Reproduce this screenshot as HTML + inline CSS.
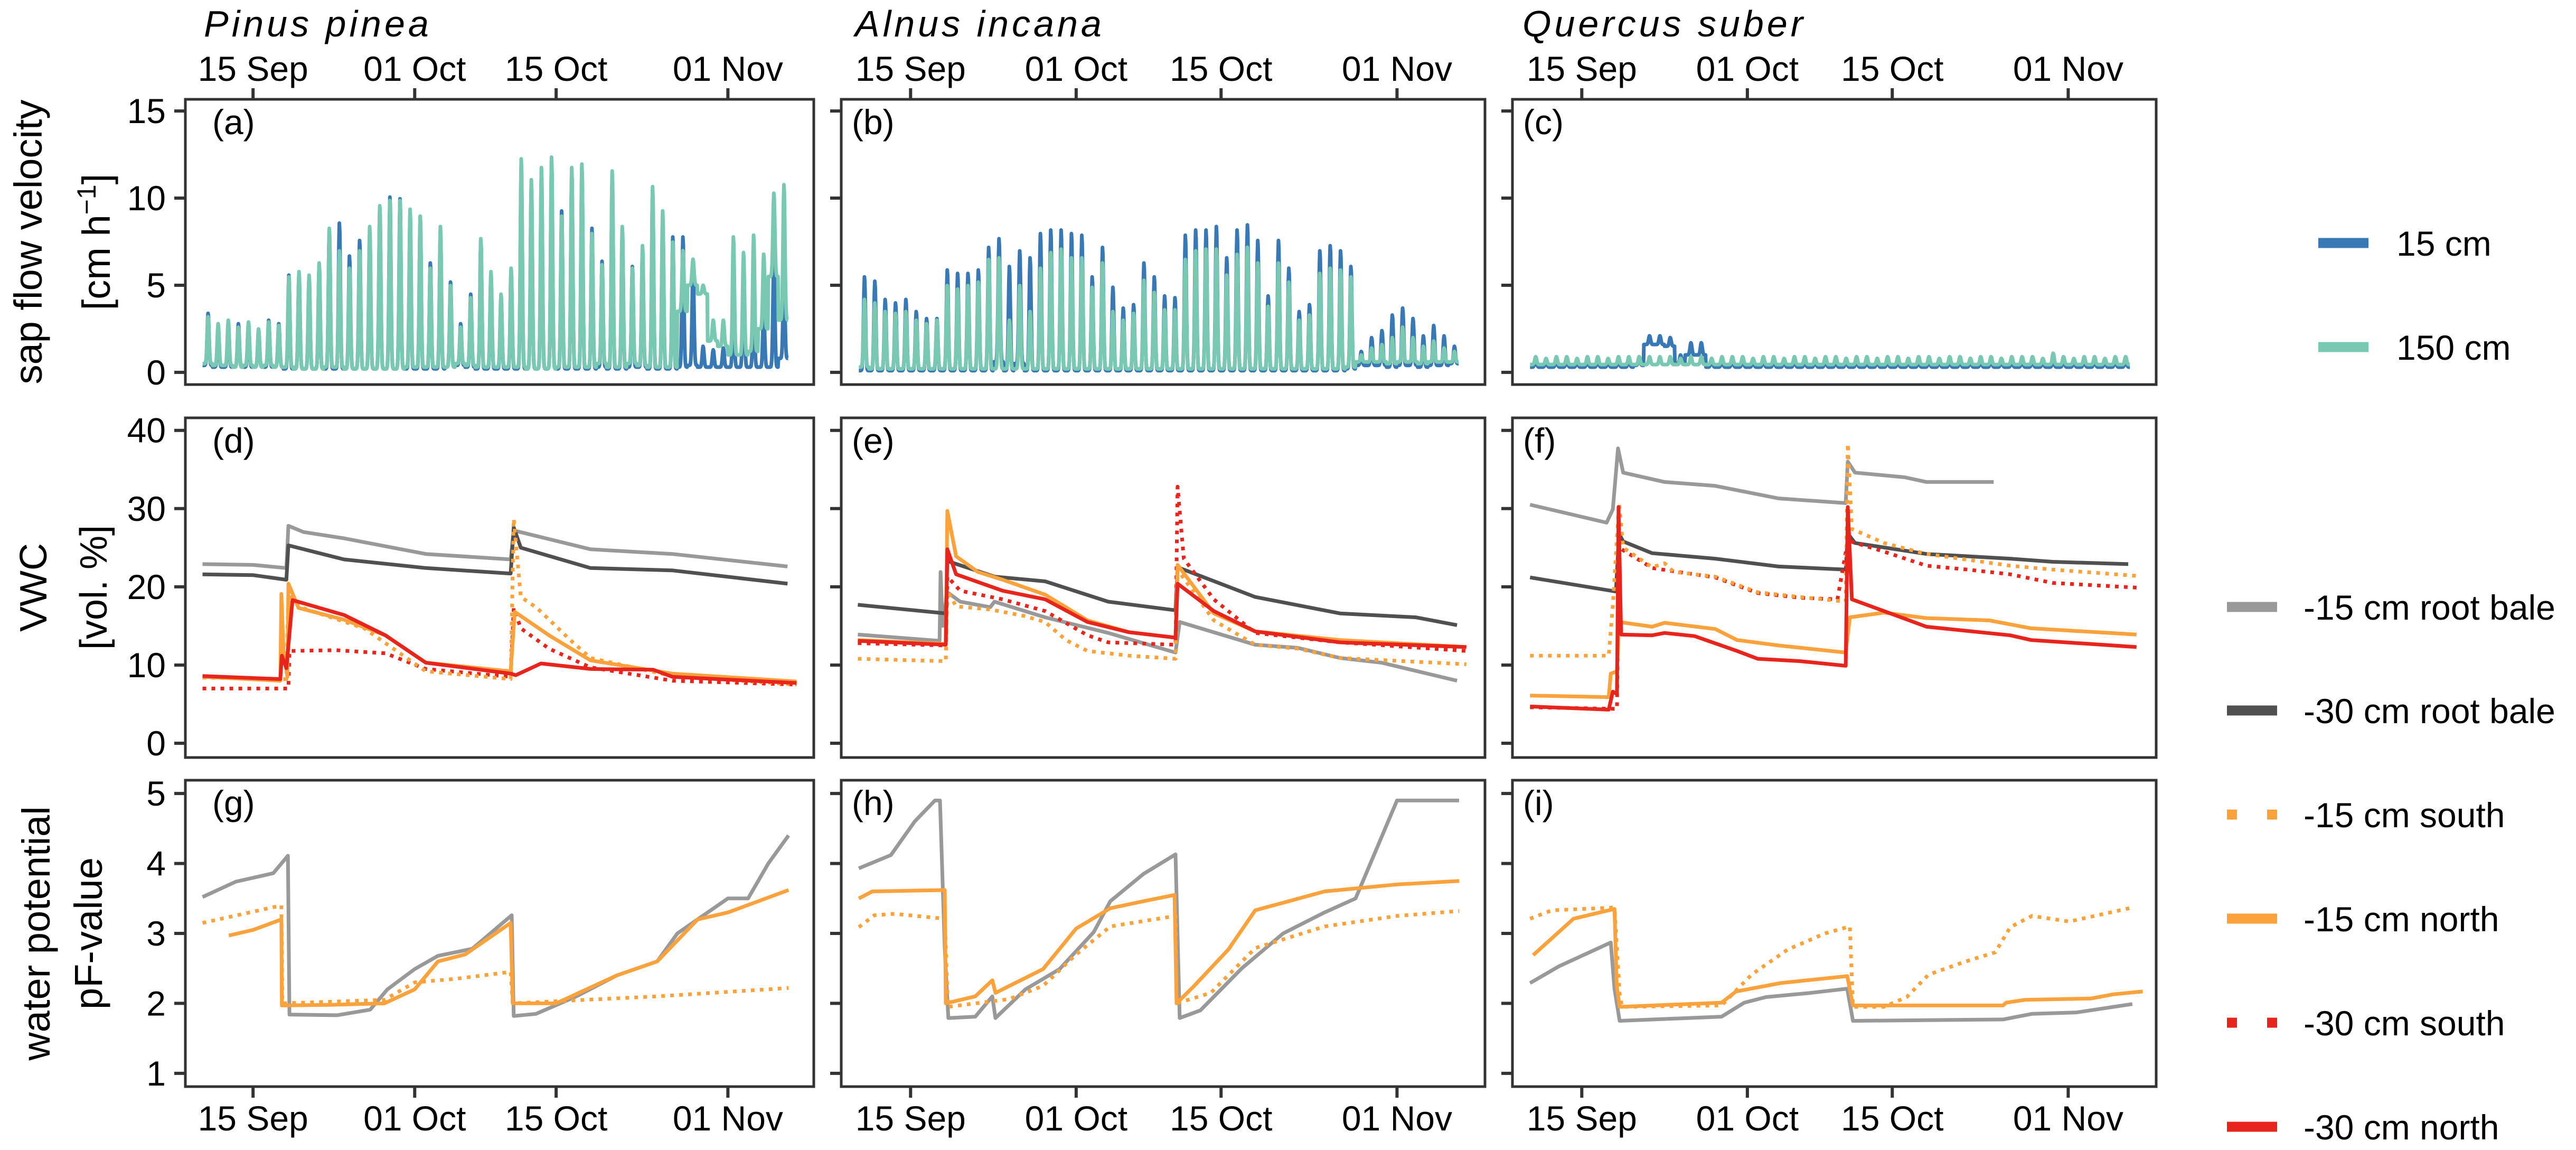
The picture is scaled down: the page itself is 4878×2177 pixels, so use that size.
<!DOCTYPE html>
<html><head><meta charset="utf-8"><title>Sap flow, VWC and water potential</title>
<style>
html,body{margin:0;padding:0;background:#fff;}
svg{display:block;font-family:"Liberation Sans",Arial,sans-serif;}
</style></head>
<body>
<svg id="chart" xmlns="http://www.w3.org/2000/svg" width="4878" height="2177" viewBox="0 0 4878 2177">
<rect x="0" y="0" width="4878" height="2177" fill="#ffffff"/>
</svg>
<script>
// ---------------- DATA ----------------
const xTickDays = [0, 16, 30, 47];
const xTickLabels = ['15 Sep', '01 Oct', '15 Oct', '01 Nov'];
const species = ['Pinus pinea', 'Alnus incana', 'Quercus suber'];
const sapTicks = [0, 5, 10, 15];
const vwcTicks = [0, 10, 20, 30, 40];
const pfTicks = [1, 2, 3, 4, 5];
const firstDay = -5;

const sapA15peak = [3.4,2.7,2.9,2.8,2.8,2.4,3.0,2.8, 5.6,5.7,5.5,6.2,8.2,8.6,6.7,7.6, 8.0,9.5,10.1,10.0,9.1,9.0,6.3,8.2, 5.2,2.8,4.5,7.6,5.6,4.4,5.9,12.0, 10.9,11.6,12.2,9.3,11.5,11.8,8.3,6.4, 11.3,8.2,6.1,7.0,10.5,9.0,7.8,7.8, 6.0,1.5,1.3,1.4,4.0,6.1,4.0,3.5, 6.4,5.6];
const sapA15min = [0.4,0.3,0.3,0.3,0.3,0.3,0.3,0.3, 0.2,0.2,0.2,0.2,0.2,0.2,0.2,0.2, 0.2,0.2,0.2,0.2,0.2,0.2,0.2,0.2, 0.3,0.4,0.3,0.2,0.2,0.2,0.2,0.2, 0.2,0.2,0.2,0.2,0.2,0.2,0.2,0.3, 0.2,0.2,0.3,0.3,0.2,0.2,0.2,0.3, 0.4,0.3,0.3,0.3,0.3,0.3,0.3,0.3, 0.3,0.8];
const sapA150peak = [3.2,2.8,3.0,2.6,2.9,2.5,2.9,2.7, 5.5,5.8,5.6,6.3,8.3,7.0,6.0,7.0, 8.4,9.6,9.9,9.9,9.4,9.0,6.0,8.4, 5.0,2.6,4.3,7.7,5.8,4.5,6.0,12.3, 11.1,11.8,12.4,9.0,11.8,12.0,8.0,6.2, 11.6,8.4,6.0,7.3,10.7,9.3,7.5,7.0, 6.5,5.0,3.0,3.0,7.8,6.9,7.9,6.8, 10.3,10.8];
const sapA150min = [0.5,0.4,0.4,0.3,0.4,0.3,0.4,0.3, 0.3,0.2,0.2,0.2,0.3,0.3,0.2,0.2, 0.2,0.2,0.2,0.2,0.3,0.3,0.3,0.3, 0.3,0.5,0.4,0.3,0.3,0.3,0.3,0.3, 0.2,0.2,0.2,0.3,0.3,0.3,0.3,0.5, 0.3,0.3,0.5,0.4,0.3,0.3,0.3,3.5, 5.0,4.5,1.8,1.5,1.0,1.0,1.2,2.5, 5.5,3.0];
const sapB15peak = [5.5,5.25,4.2,4.0,4.2,3.5,3.1,3.1, 5.9,5.7,5.7,5.9,7.2,7.7,6.1,7.0, 6.6,8.0,8.2,8.2,8.0,7.9,5.5,7.2, 4.9,3.7,3.9,6.3,5.5,4.4,4.3,7.9, 8.2,8.2,8.4,6.6,8.2,8.5,7.6,4.4, 7.6,6.0,3.5,3.9,7.0,7.3,7.0,6.1, 1.2,2.0,2.4,3.3,3.7,3.1,2.1,2.7, 2.1,1.5];
const sapB15min = [0.1,0.1,0.1,0.1,0.1,0.1,0.1,0.1, 0.1,0.1,0.1,0.1,0.1,0.6,0.1,0.5, 0.1,0.1,0.1,0.1,0.1,0.1,0.1,0.1, 0.1,0.1,0.1,0.1,0.1,0.1,0.1,0.1, 0.1,0.1,0.1,0.1,0.1,0.1,0.1,0.1, 0.1,0.1,0.1,0.1,0.1,0.1,0.1,0.2, 0.4,0.4,0.4,0.3,0.4,0.4,0.3,0.4, 0.4,0.5];
const sapB150peak = [4.2,4.0,3.5,3.4,3.5,3.0,2.8,3.0, 5.0,4.8,5.0,5.2,6.5,6.6,3.0,5.0, 3.5,6.0,6.9,7.1,6.6,6.6,4.9,6.3, 3.5,3.0,3.4,5.3,4.6,3.6,3.6,6.5, 7.0,7.1,7.1,5.6,6.8,7.2,6.3,3.8, 6.3,5.2,3.0,3.3,5.7,6.0,5.9,5.5, 1.0,1.4,1.6,2.0,2.6,2.0,1.5,1.8, 1.4,1.2];
const sapB150min = [0.3,0.2,0.2,0.2,0.2,0.2,0.2,0.2, 0.2,0.2,0.2,0.2,0.2,0.2,0.2,0.2, 0.2,0.2,0.2,0.2,0.2,0.2,0.2,0.2, 0.2,0.2,0.2,0.2,0.2,0.2,0.2,0.2, 0.2,0.2,0.2,0.2,0.2,0.2,0.2,0.2, 0.2,0.2,0.2,0.2,0.2,0.2,0.2,0.3, 0.6,0.6,0.6,0.5,0.6,0.6,0.5,0.6, 0.6,0.6];
const sapC15peak = [0.8,0.7,0.8,0.8,0.7,0.8,0.8,0.7, 0.8,0.8,0.9,2.1,2.1,2.0,1.0,1.7, 1.7,0.8,0.7,0.8,0.8,0.7,0.8,0.8, 0.7,0.8,0.7,0.8,0.8,0.7,0.8,0.8, 0.7,0.8,0.8,0.7,0.8,0.7,0.8,0.8, 0.7,0.8,0.8,0.7,0.8,0.8,0.7,0.8, 0.8,0.7,0.8,0.8,0.7,0.8,0.8,0.7, 0.8,0.8];
const sapC15min = [0.3,0.3,0.3,0.3,0.3,0.3,0.3,0.3, 0.3,0.3,0.4,1.6,1.6,1.5,0.5,1.0, 1.0,0.3,0.3,0.3,0.3,0.3,0.3,0.3, 0.3,0.3,0.3,0.3,0.3,0.3,0.3,0.3, 0.3,0.3,0.3,0.3,0.3,0.3,0.3,0.3, 0.3,0.3,0.3,0.3,0.3,0.3,0.3,0.3, 0.3,0.3,0.3,0.3,0.3,0.3,0.3,0.3, 0.3,0.3];
const sapC150peak = [0.9,0.8,0.9,0.9,0.8,0.9,0.9,0.8, 0.9,0.9,0.9,0.9,0.9,0.9,0.8,0.9, 0.9,0.8,0.9,0.9,0.9,0.8,0.9,0.9, 0.8,0.9,0.9,0.8,0.9,0.9,0.8,0.9, 0.9,0.8,0.9,0.9,0.8,0.9,0.9,0.8, 0.9,0.9,0.8,0.9,0.9,0.8,0.9,0.9, 0.9,0.8,1.1,0.9,0.8,0.9,0.9,0.8, 0.9,0.9];
const sapC150min = [0.45,0.45,0.45,0.45,0.45,0.45,0.45,0.45, 0.45,0.45,0.45,0.45,0.45,0.45,0.45,0.45, 0.45,0.45,0.45,0.45,0.45,0.45,0.45,0.45, 0.45,0.45,0.45,0.45,0.45,0.45,0.45,0.45, 0.45,0.45,0.45,0.45,0.45,0.45,0.45,0.45, 0.45,0.45,0.45,0.45,0.45,0.45,0.45,0.45, 0.45,0.45,0.45,0.45,0.45,0.45,0.45,0.45, 0.45,0.45];

const vwcPinusRoot15 = [[-5,22.9],[0,22.8],[3.3,22.4],[3.5,27.8],[5,27.0],[9,26.2],[17.1,24.2],[25.5,23.5],[25.8,27.2],[33.4,24.8],[41.5,24.2],[52.9,22.6]];
const vwcPinusRoot30 = [[-5,21.6],[0,21.5],[3.3,20.9],[3.5,25.3],[9,23.5],[17.1,22.4],[25.5,21.7],[25.8,27.6],[26.5,25.0],[33.4,22.4],[41.5,22.1],[52.9,20.4]];
const vwcPinusS15 = [[-5,8.4],[3.3,8.2],[3.5,19.0],[4.9,17.3],[11,14.7],[17.1,9.2],[25.5,8.2],[25.8,28.7],[26.5,18.7],[28.1,17.3],[31.4,13.2],[33.4,10.9],[41.5,8.6],[53.8,7.5]];
const vwcPinusN15 = [[-5,8.5],[2.7,8.0],[2.8,19.1],[3.0,12.0],[3.4,8.5],[3.5,20.4],[4.5,17.3],[9,15.8],[13.1,13.8],[17.1,10.3],[25.5,9.2],[25.9,16.8],[29.3,13.8],[33.4,10.6],[41.5,8.9],[53.8,7.9]];
const vwcPinusS30 = [[-5,7.0],[3.5,7.0],[3.6,11.8],[8.2,11.9],[13.1,11.5],[17.1,9.5],[25.5,8.5],[25.8,17.3],[26.5,14.7],[29.3,12.1],[33.4,9.7],[41.5,8.0],[53.8,7.5]];
const vwcPinusN30 = [[-5,8.6],[2.7,8.2],[2.85,11.2],[3.3,9.6],[3.9,18.3],[9,16.4],[13.1,13.8],[17.1,10.3],[25.5,8.9],[26.0,8.7],[28.5,10.2],[33.4,9.5],[39.6,9.4],[41.5,8.5],[53.8,7.7]];

const vwcAlnusRoot15 = [[-5.1,13.9],[2.8,13.1],[2.9,21.9],[3.1,15.0],[3.55,19.3],[4.8,18.1],[7.7,17.4],[8.1,18.1],[13,16.1],[19.1,14.1],[25.6,11.6],[26.0,15.5],[33.3,12.6],[37.4,12.2],[41.5,10.9],[45.5,10.3],[52.8,8.0]];
const vwcAlnusRoot30 = [[-5.1,17.7],[3.4,16.6],[3.55,23.3],[8.1,21.3],[13,20.7],[19.1,18.1],[25.6,17.0],[25.8,22.5],[33.3,18.7],[41.5,16.6],[48.8,16.1],[52.8,15.1]];
const vwcAlnusS15 = [[-5.1,10.8],[3.4,10.5],[3.55,19.5],[4.4,17.5],[7.7,17.1],[10.9,16.3],[13,15.5],[15,13.2],[17.1,11.8],[21.1,11.2],[25.6,10.8],[25.8,22.2],[29.3,15.7],[33.3,12.6],[37.4,12.1],[41.5,10.9],[53.7,10.1]];
const vwcAlnusN15 = [[-5.1,13.2],[3.4,12.7],[3.55,29.7],[4.4,23.9],[6.5,21.9],[8.9,20.9],[13,19.0],[17.1,15.7],[21.1,14.2],[25.6,13.5],[25.8,22.8],[29.3,16.6],[33.3,14.3],[41.5,13.2],[53.7,12.3]];
const vwcAlnusS30 = [[-5.1,12.8],[3.4,12.5],[3.55,21.3],[4.8,19.5],[8.9,18.4],[13,16.9],[17.1,13.8],[19.1,12.9],[25.6,12.6],[25.8,32.8],[26.4,23.6],[29.3,18.4],[33.3,14.1],[41.5,12.9],[53.7,11.8]];
const vwcAlnusN30 = [[-5.1,13.1],[3.4,12.6],[3.55,24.8],[4.4,21.6],[8.9,19.5],[13,18.4],[17.1,15.5],[21.1,14.2],[25.6,13.5],[25.8,20.4],[29.3,16.9],[33.3,14.3],[41.5,12.9],[53.7,12.3]];

const vwcQuercusRoot15 = [[-5,30.5],[2.4,28.2],[3.0,29.9],[3.5,37.7],[4.0,34.6],[8,33.4],[12.9,32.9],[19,31.3],[25.5,30.7],[25.7,36.0],[26.4,34.6],[31.2,34.0],[33.3,33.4],[39.8,33.4]];
const vwcQuercusRoot30 = [[-5,21.2],[3.3,19.4],[3.6,26.8],[4.0,25.8],[6.8,24.3],[12.9,23.6],[19,22.6],[25.5,22.2],[25.7,26.8],[26.4,25.6],[33.3,24.2],[41.4,23.6],[45.5,23.2],[52.8,22.9]];
const vwcQuercusS15 = [[-5,11.2],[2.6,11.2],[3.0,17.6],[3.6,30.7],[4.0,25.0],[6.8,22.5],[8,23.0],[8.9,21.9],[12.9,21.3],[17,19.3],[21.1,18.7],[25.5,18.1],[25.7,38.3],[26.1,27.4],[29.2,25.6],[33.3,24.2],[41.4,22.7],[45.5,22.2],[53.6,21.4]];
const vwcQuercusN15 = [[-5,6.1],[2.6,5.9],[2.8,8.9],[3.4,9.2],[3.6,15.5],[6.8,14.9],[8,15.4],[12.9,14.6],[15,13.2],[19,12.5],[25.5,11.6],[25.9,16.1],[29.2,16.7],[33.3,16.0],[39.4,15.7],[43.4,14.7],[53.6,13.9]];
const vwcQuercusS30 = [[-5,4.6],[3.4,4.4],[3.6,25.0],[6.8,22.4],[12.9,21.2],[17,19.2],[21.1,18.6],[24.7,18.4],[25.7,25.9],[29.2,24.5],[33.3,22.7],[37.3,22.2],[41.4,21.6],[45.5,20.5],[53.6,19.9]];
const vwcQuercusN30 = [[-5,4.7],[2.6,4.3],[3.0,6.6],[3.4,6.3],[3.55,30.2],[3.8,13.9],[6.8,13.8],[8,14.1],[10.9,13.7],[15,11.8],[17,10.8],[21.1,10.5],[25.5,9.9],[25.7,30.2],[26.1,18.4],[29.2,16.9],[33.3,14.9],[41.4,13.8],[43.4,13.2],[53.6,12.3]];

const pfPinusRoot15 = [[-5,3.52],[-1.7,3.74],[2.0,3.86],[3.45,4.11],[3.6,1.84],[8.3,1.83],[11.6,1.91],[13.3,2.2],[16,2.49],[18.3,2.68],[21.7,2.78],[25.6,3.26],[25.8,1.82],[28,1.85],[32,2.1],[36,2.4],[40,2.6],[42,3.0],[45,3.3],[47,3.5],[49,3.5],[51,4.0],[53,4.4]];
const pfPinusS15 = [[-5,3.15],[2.8,3.4],[2.9,2.0],[13,2.05],[16,2.3],[20,2.35],[25.5,2.45],[25.7,2.0],[40,2.1],[53,2.22]];
const pfPinusN15 = [[-2.4,2.97],[0,3.05],[2.8,3.2],[2.85,1.97],[8,1.98],[13,2.0],[16,2.2],[18.3,2.6],[21,2.7],[24,3.0],[25.5,3.15],[25.7,2.0],[30,2.0],[33,2.2],[36,2.4],[40,2.6],[44,3.2],[47,3.3],[53,3.62]];
const pfAlnusRoot15 = [[-5,3.93],[-1.9,4.12],[0.4,4.6],[2.35,4.9],[2.84,4.9],[3.3,2.78],[3.65,1.79],[6.25,1.81],[7.9,2.1],[8.2,1.79],[11.1,2.2],[14.4,2.49],[17.7,3.02],[19.3,3.46],[22.5,3.85],[25.6,4.13],[26.0,1.79],[28,1.9],[32,2.5],[36,3.0],[40,3.3],[43,3.5],[45,4.2],[47,4.9],[53,4.9]];
const pfAlnusS15 = [[-5,3.09],[-3.5,3.26],[-1.56,3.28],[3.3,3.21],[3.6,1.95],[9.5,2.06],[12.8,2.25],[16,2.7],[19.3,3.1],[25.6,3.25],[25.7,2.0],[29,2.15],[33.3,2.79],[40,3.1],[47,3.25],[53,3.32]];
const pfAlnusN15 = [[-5,3.5],[-3.7,3.6],[3.3,3.62],[3.4,2.0],[6.25,2.1],[7.9,2.33],[8.2,2.15],[12.8,2.49],[16,3.07],[19.3,3.36],[22.5,3.46],[25.5,3.55],[25.7,2.0],[27.4,2.25],[30.7,2.77],[33.3,3.33],[40,3.6],[47,3.7],[53,3.75]];
const pfQuercusRoot15 = [[-5,2.29],[-2.2,2.53],[2.8,2.87],[3.16,2.21],[3.66,1.75],[13.5,1.81],[15.7,2.01],[17.8,2.09],[22.1,2.15],[25.65,2.21],[26.2,1.75],[40.7,1.77],[43.5,1.85],[47.8,1.87],[53.2,1.99]];
const pfQuercusS15 = [[-5,3.21],[-2.9,3.33],[3.16,3.37],[3.66,2.13],[3.88,1.95],[13.5,1.97],[16.4,2.41],[19.9,2.77],[23.5,3.0],[25.9,3.1],[26.2,1.95],[29.2,1.95],[31.4,2.09],[33.5,2.41],[37.1,2.6],[39.95,2.73],[41.4,3.09],[43.5,3.25],[47.1,3.17],[53.2,3.37]];
const pfQuercusN15 = [[-4.7,2.69],[-2.9,2.93],[-0.8,3.21],[3.16,3.35],[3.38,2.25],[3.66,1.95],[13.5,2.01],[14.9,2.17],[19.2,2.29],[25.65,2.39],[26.2,1.97],[40.7,1.97],[41.0,2.01],[42.8,2.05],[49.2,2.07],[51.4,2.13],[54.2,2.17]];

// ---------------- LAYOUT ----------------
const NS = 'http://www.w3.org/2000/svg';
const svg = document.getElementById('chart');
const cols = [{x:351,w:1190},{x:1593,w:1219},{x:2864,w:1219}];
const rows = [{y:188,h:540,min:-0.7,max:15.67},{y:791,h:643,min:-1.82,max:41.6},{y:1477,h:580,min:0.81,max:5.19}];
const dayMin = -6.7, daySpan = 62.2;
const C = {blue:'#3878b4', green:'#78c8b2', lgrey:'#999999', dgrey:'#505050', orange:'#fba23c', red:'#e8251c', axis:'#333333'};

function xS(c, d){ return cols[c].x + (d - dayMin) / daySpan * cols[c].w; }
function yS(r, v){ const R = rows[r]; return R.y + R.h - (v - R.min) / (R.max - R.min) * R.h; }
function mk(tag, attrs, parent){ const e = document.createElementNS(NS, tag); for (const k in attrs) e.setAttribute(k, attrs[k]); (parent || svg).appendChild(e); return e; }
function txt(s, attrs, parent){ const e = mk('text', attrs, parent); e.textContent = s; return e; }

const defs = mk('defs', {});
for (let r = 0; r < 3; r++) for (let c = 0; c < 3; c++) {
  const cp = mk('clipPath', {id:'clip'+r+c}, defs);
  mk('rect', {x:cols[c].x, y:rows[r].y, width:cols[c].w, height:rows[r].h}, cp);
}

for (let c = 0; c < 3; c++) {
  const t = txt(species[c], {x:[386,1619,2883][c], y:69, 'font-size':70, 'font-style':'italic', 'letter-spacing':6, fill:'#000'});
  
  
}

function drawPairs(r, c, pts, color, dashed, name){
  let d = '';
  pts.forEach((p, i) => { d += (i ? 'L' : 'M') + xS(c, p[0]).toFixed(1) + ' ' + yS(r, p[1]).toFixed(1); });
  const p = mk('path', {d:d, fill:'none', stroke:color, 'stroke-width':7, 'stroke-linejoin':'round', 'clip-path':'url(#clip'+r+c+')'});
  if (dashed) p.setAttribute('stroke-dasharray', '7 10');
  
  
}
function drawSap(c, peaks, mins, color, name){
  let d = '';
  const n = peaks.length;
  for (let i = 0; i <= n * 24 - 1; i++) {
    const t = firstDay + i / 24;
    const k = Math.floor(t - firstDay);
    const frac = t - Math.floor(t);
    const v = mins[k] + (peaks[k] - mins[k]) * Math.exp(-Math.pow((frac - 0.55) / 0.13, 2));
    d += (i ? 'L' : 'M') + xS(c, t).toFixed(1) + ' ' + yS(0, v).toFixed(1);
  }
  const p = mk('path', {d:d, fill:'none', stroke:color, 'stroke-width':7, 'stroke-linejoin':'round', 'clip-path':'url(#clip0'+c+')'});
  
  
}

drawSap(0, sapA15peak, sapA15min, C.blue, 'sap-pinus-15cm');
drawSap(0, sapA150peak, sapA150min, C.green, 'sap-pinus-150cm');
drawSap(1, sapB15peak, sapB15min, C.blue, 'sap-alnus-15cm');
drawSap(1, sapB150peak, sapB150min, C.green, 'sap-alnus-150cm');
drawSap(2, sapC15peak, sapC15min, C.blue, 'sap-quercus-15cm');
drawSap(2, sapC150peak, sapC150min, C.green, 'sap-quercus-150cm');

const vwcSets = [
  [vwcPinusRoot15, vwcPinusRoot30, vwcPinusS30, vwcPinusS15, vwcPinusN15, vwcPinusN30],
  [vwcAlnusRoot15, vwcAlnusRoot30, vwcAlnusS30, vwcAlnusS15, vwcAlnusN15, vwcAlnusN30],
  [vwcQuercusRoot15, vwcQuercusRoot30, vwcQuercusS30, vwcQuercusS15, vwcQuercusN15, vwcQuercusN30]
];
const vwcStyle = [[C.lgrey,false,'root15'],[C.dgrey,false,'root30'],[C.red,true,'south30'],[C.orange,true,'south15'],[C.orange,false,'north15'],[C.red,false,'north30']];
for (let c = 0; c < 3; c++) vwcSets[c].forEach((s, i) => drawPairs(1, c, s, vwcStyle[i][0], vwcStyle[i][1], 'vwc-' + ['pinus','alnus','quercus'][c] + '-' + vwcStyle[i][2]));

const pfSets = [
  [pfPinusRoot15, pfPinusS15, pfPinusN15],
  [pfAlnusRoot15, pfAlnusS15, pfAlnusN15],
  [pfQuercusRoot15, pfQuercusS15, pfQuercusN15]
];
const pfStyle = [[C.lgrey,false,'root15'],[C.orange,true,'south15'],[C.orange,false,'north15']];
for (let c = 0; c < 3; c++) pfSets[c].forEach((s, i) => drawPairs(2, c, s, pfStyle[i][0], pfStyle[i][1], 'pf-' + ['pinus','alnus','quercus'][c] + '-' + pfStyle[i][2]));

const letters = ['a','b','c','d','e','f','g','h','i'];
const yTickSets = [sapTicks, vwcTicks, pfTicks];
for (let r = 0; r < 3; r++) for (let c = 0; c < 3; c++) {
  const R = rows[r], Cc = cols[c];
  const fr = mk('rect', {x:Cc.x, y:R.y, width:Cc.w, height:R.h, fill:'none', stroke:C.axis, 'stroke-width':5});
  
  
  const lab = txt('(' + letters[r*3+c] + ')', {x:Cc.x + (c === 0 ? 51 : 20), y:R.y + 66, 'font-size':66, fill:'#000'});
  
  
  yTickSets[r].forEach(v => {
    const y = yS(r, v);
    const tk = mk('line', {x1:Cc.x - 21, x2:Cc.x, y1:y, y2:y, stroke:C.axis, 'stroke-width':6});
    
    
    if (c === 0) {
      const tl = txt(String(v), {x:Cc.x - 37, y:y + 23, 'font-size':66, 'text-anchor':'end', fill:'#000'});
      
      
    }
  });
  if (r === 0 || r === 2) {
    xTickDays.forEach((d, i) => {
      const x = xS(c, d);
      const y0 = r === 0 ? R.y : R.y + R.h;
      const y1 = r === 0 ? R.y - 21 : R.y + R.h + 21;
      const tk = mk('line', {x1:x, x2:x, y1:y0, y2:y1, stroke:C.axis, 'stroke-width':6});
      
      
      const tl = txt(xTickLabels[i], {x:x, y:r === 0 ? 153 : 2140, 'font-size':66, 'text-anchor':'middle', fill:'#000'});
      
      
    });
  }
}

function yTitle(s, x, cy, fs, name){
  const t = txt(s, {x:0, y:0, 'font-size':fs, 'text-anchor':'middle', fill:'#000', transform:'translate(' + x + ',' + cy + ') rotate(-90)'});
  
  
  return t;
}
yTitle('sap flow velocity', 79, 458, 74, 'y-title-sapflow');
const unit = yTitle('[cm h', 208, 458, 74, 'y-title-sapflow-unit');
const sup = document.createElementNS(NS, 'tspan');
sup.setAttribute('dy', '-27'); sup.setAttribute('font-size', '50'); sup.textContent = '\u22121';
unit.appendChild(sup);
const cl = document.createElementNS(NS, 'tspan');
cl.setAttribute('dy', '27'); cl.textContent = ']';
unit.appendChild(cl);
yTitle('VWC', 88, 1112, 72, 'y-title-vwc');
yTitle('[vol. %]', 202, 1112, 72, 'y-title-vwc-unit');
yTitle('water potential', 94, 1767, 74, 'y-title-water-potential');
yTitle('pF-value', 193, 1767, 74, 'y-title-pf');

const legTop = [['15 cm', C.blue, false, 460], ['150 cm', C.green, false, 657]];
legTop.forEach(l => {
  const s = mk('line', {x1:4390, x2:4485, y1:l[3], y2:l[3], stroke:l[1], 'stroke-width':19});
  
  
  const t = txt(l[0], {x:4538, y:l[3] + 24, 'font-size':66, fill:'#000'});
  
  
});
const legBottom = [['-15 cm root bale', C.lgrey, false, 1149], ['-30 cm root bale', C.dgrey, false, 1345], ['-15 cm south', C.orange, true, 1542], ['-15 cm north', C.orange, false, 1739], ['-30 cm south', C.red, true, 1936], ['-30 cm north', C.red, false, 2133]];
legBottom.forEach(l => {
  const s = mk('line', {x1:4217, x2:4312, y1:l[3], y2:l[3], stroke:l[1], 'stroke-width':19});
  if (l[2]) s.setAttribute('stroke-dasharray', '19 57');
  
  
  const t = txt(l[0], {x:4362, y:l[3] + 24, 'font-size':66, fill:'#000'});
  
  
});
</script>
</body></html>
